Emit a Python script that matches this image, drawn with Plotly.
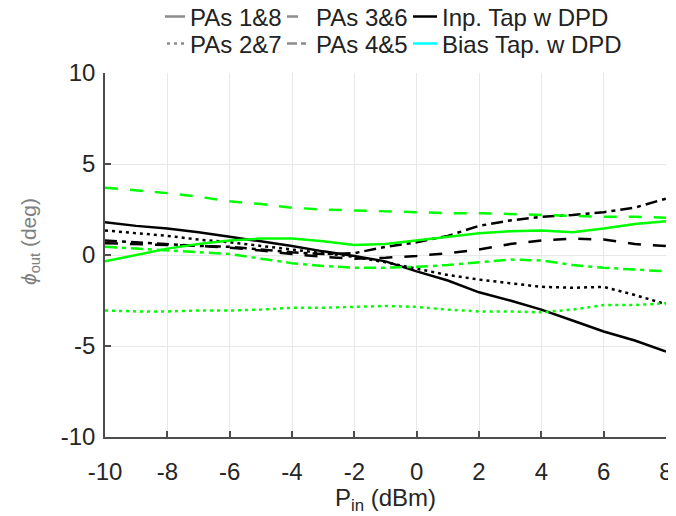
import plotly.graph_objects as go

# ---- data ----
p_in = [-10, -9, -8, -7, -6, -5, -4, -3, -2, -1, 0, 1, 2, 3, 4, 5, 6, 7, 8]

# Inp. Tap w DPD (black)
inp_pa18 = [1.8, 1.6, 1.45, 1.25, 1.0, 0.75, 0.5, 0.2, -0.05, -0.35, -0.9, -1.4, -2.05, -2.5, -3.0, -3.6, -4.2, -4.7, -5.3]
inp_pa27 = [1.35, 1.2, 1.05, 0.85, 0.7, 0.5, 0.3, 0.1, -0.1, -0.4, -0.75, -1.1, -1.35, -1.55, -1.75, -1.8, -1.75, -2.2, -2.7]
inp_pa36 = [0.65, 0.6, 0.55, 0.5, 0.4, 0.25, 0.05, -0.1, -0.2, -0.15, -0.05, 0.1, 0.3, 0.6, 0.8, 0.9, 0.85, 0.6, 0.5]
inp_pa45 = [0.8, 0.7, 0.6, 0.5, 0.45, 0.3, 0.15, 0.05, 0.1, 0.45, 0.7, 1.05, 1.6, 1.9, 2.1, 2.2, 2.35, 2.6, 3.1]

# Bias Tap. w DPD (green)
bias_pa18 = [-0.35, 0.0, 0.35, 0.6, 0.8, 0.9, 0.9, 0.75, 0.55, 0.6, 0.8, 1.0, 1.2, 1.3, 1.35, 1.25, 1.45, 1.7, 1.85]
bias_pa27 = [-3.05, -3.1, -3.1, -3.05, -3.05, -3.0, -2.9, -2.9, -2.85, -2.8, -2.85, -3.0, -3.1, -3.1, -3.15, -3.0, -2.75, -2.75, -2.65]
bias_pa36 = [3.7, 3.55, 3.4, 3.2, 2.95, 2.8, 2.6, 2.5, 2.45, 2.4, 2.35, 2.3, 2.3, 2.25, 2.2, 2.15, 2.1, 2.1, 2.05]
bias_pa45 = [0.45, 0.35, 0.25, 0.15, 0.05, -0.2, -0.45, -0.6, -0.7, -0.7, -0.65, -0.55, -0.4, -0.25, -0.3, -0.55, -0.7, -0.8, -0.9]

x_ticks = [-10, -8, -6, -4, -2, 0, 2, 4, 6, 8]
y_ticks = [-10, -5, 0, 5, 10]

legend_names_row1 = ["PAs 1&8", "PAs 3&6", "Inp. Tap w DPD"]
legend_names_row2 = ["PAs 2&7", "PAs 4&5", "Bias Tap. w DPD"]

# ---- styles ----
DASH = "13px,12px"
DASHDOT = "12px,5px,4px,5px"
DOT = "3px,4px"
GREEN = "#00ff00"
BLACK = "#000000"
GRAY = "#8c8c8c"
LW = 2.5
FONT = "Liberation Sans, Arial"

# the page body has an 8px margin; figure is sized to fit the window
W, H = 668, 508
OFF = 8

fig = go.Figure()

series = [
    (inp_pa18, BLACK, "solid"),
    (inp_pa27, BLACK, DOT),
    (inp_pa36, BLACK, DASH),
    (inp_pa45, BLACK, DASHDOT),
    (bias_pa18, GREEN, "solid"),
    (bias_pa27, GREEN, DOT),
    (bias_pa36, GREEN, DASH),
    (bias_pa45, GREEN, DASHDOT),
]
for ys, col, dash in series:
    fig.add_trace(go.Scatter(x=p_in, y=ys, mode="lines",
                             line=dict(color=col, width=LW, dash=dash),
                             showlegend=False, hoverinfo="skip"))

# legend-only entries, one legend per entry for exact placement
# legend sample dash arrays start with an empty dash + gap to shorten the sample
row1_styles = [(GRAY, "0px,10px,25px,100px"),
               (GRAY, "0px,6px,11px,100px"),
               (BLACK, "0px,6px,24px,100px")]
row2_styles = [(GRAY, "0px,12px,3px,4px,3px,4px,3px,4px,3px,100px"),
               (GRAY, "0px,6px,10px,4px,5px,100px"),
               ("#00ffff", "0px,6px,24px,100px")]
col_text_x = [192, 318, 444]     # page px where entry text starts
row_y = [9, 36]                  # figure px legend centre

leg_common = dict(orientation="h", xref="container", yref="container",
                  xanchor="left", yanchor="middle", bgcolor="rgba(0,0,0,0)",
                  borderwidth=0, font=dict(family=FONT, size=24, color="#222222"),
                  itemwidth=30, tracegroupgap=0)

legend_layouts = {}
k = 0
for r, (names, styles) in enumerate([(legend_names_row1, row1_styles), (legend_names_row2, row2_styles)]):
    for c, (name, (col, dash)) in enumerate(zip(names, styles)):
        k += 1
        lg = "legend" if k == 1 else f"legend{k}"
        fig.add_trace(go.Scatter(x=[None], y=[None], mode="lines", name=name,
                                 line=dict(color=col, width=LW, dash=dash),
                                 legend=lg, showlegend=True))
        legend_layouts[lg] = dict(x=(col_text_x[c] - 42 - OFF) / W, y=1 - row_y[r] / H, **leg_common)

PL, PR, PT, PB = 105 - OFF, 666 - OFF, 73 - OFF, 437 - OFF

fig.update_layout(
    width=W, height=H,
    margin=dict(l=PL, r=W - PR, t=PT, b=H - PB, autoexpand=False),
    paper_bgcolor="white", plot_bgcolor="white",
    font=dict(family=FONT, color="#262626"),
    xaxis=dict(range=[-10, 8], tickvals=x_ticks, ticktext=[str(v) for v in x_ticks],
               showgrid=True, gridcolor="#e8e8e8", gridwidth=1, zeroline=False,
               showline=True, linecolor="#4d4d4d", linewidth=1.5, mirror=False,
               ticks="inside", ticklen=6, tickcolor="#4d4d4d", tickwidth=1.5,
               tickfont=dict(size=24, color="#262626"), ticklabelstandoff=12,
               ticklabeloverflow="allow"),
    yaxis=dict(range=[-10, 10], tickvals=y_ticks, ticktext=[str(v) for v in y_ticks],
               showgrid=True, gridcolor="#e8e8e8", gridwidth=1, zeroline=False,
               showline=True, linecolor="#4d4d4d", linewidth=1.5, mirror=False,
               ticks="inside", ticklen=6, tickcolor="#4d4d4d", tickwidth=1.5,
               tickfont=dict(size=24, color="#262626"), ticklabelstandoff=3,
               ticklabeloverflow="allow"),
    annotations=[
        dict(text="<i>ϕ</i><sub>out</sub> (deg)", textangle=-90, showarrow=False,
             xref="paper", yref="paper", x=(30 - 105) / 561, y=(437 - 242) / 364,
             xanchor="center", yanchor="middle",
             font=dict(size=21, color="#808080")),
        dict(text="P<sub>in</sub> (dBm)", showarrow=False,
             xref="paper", yref="paper", x=0.5, y=(437 - 499) / 364,
             xanchor="center", yanchor="middle",
             font=dict(size=24, color="#262626")),
    ],
    **legend_layouts,
)

fig.write_html("out.html")
